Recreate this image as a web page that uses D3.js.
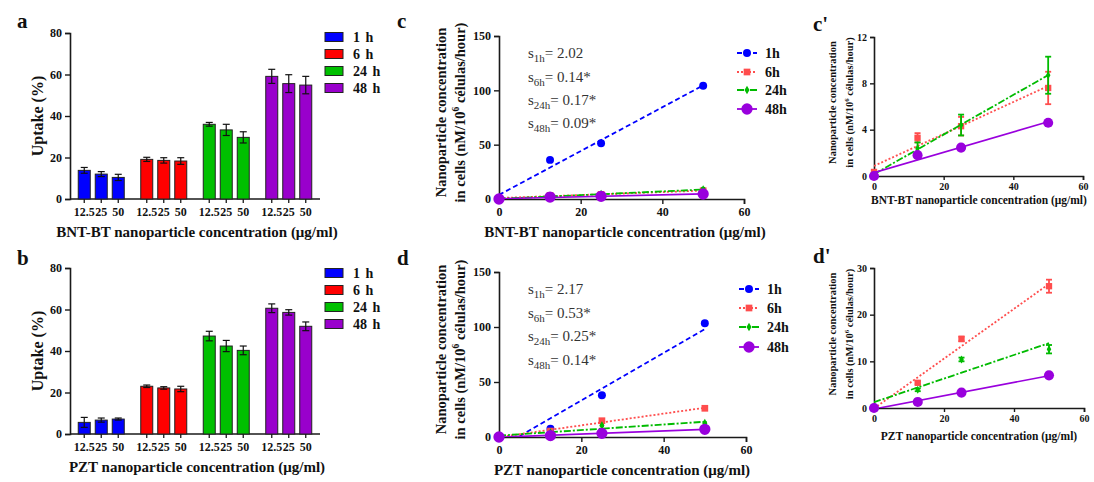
<!DOCTYPE html>
<html>
<head>
<meta charset="utf-8">
<script src="https://cdn.jsdelivr.net/npm/d3@7"></script>
<style>
  body { margin: 0; background: #fff; }
  text { font-family: "Liberation Serif", "Times New Roman", serif; }
</style>
</head>
<body>
<svg id="fig" width="1094" height="482"></svg>
<script>
// ---- data ----
var times = ["1 h", "6 h", "24 h", "48 h"];
var concLabels = ["12.5", "25", "50"];

// uptake (%) per time group, one value per concentration
var uptakeBNT    = [[13.8, 12.0, 10.4], [19.1, 18.6, 18.3], [36.0, 33.3, 29.7], [59.1, 55.6, 54.9]];
var uptakeBNTErr = [[1.4, 1.2, 1.5], [1.0, 1.3, 1.6], [0.9, 2.7, 2.7], [3.4, 4.3, 4.2]];
var uptakePZT    = [[5.6, 6.7, 7.2], [23.0, 22.2, 21.7], [47.2, 42.4, 40.3], [60.6, 58.6, 51.9]];
var uptakePZTErr = [[2.4, 1.0, 0.5], [0.6, 0.6, 1.3], [2.3, 2.7, 2.1], [2.1, 1.3, 2.1]];

// nanoparticle concentration in cells vs. dose
var conc = [0, 12.5, 25, 50];
var seriesNames = ["1h", "6h", "24h", "48h"];
var bnt1h  = [0, 36.0, 51.2, 104.3];
var bnt6h  = [0.35, 3.3, 4.3, 7.6];
var bnt24h = [0.1, 2.4, 4.4, 8.7];
var bnt48h = [0, 1.8, 2.45, 4.6];
var bnt1hErr  = [0, 1.0, 1.5, 1.0];
var bnt6hErr  = [0.1, 0.4, 0.8, 1.4];
var bnt24hErr = [0.1, 0.5, 0.9, 1.6];
var bnt48hErr = [0, 0.1, 0.1, 0.1];

var pzt1h  = [0, 7.5, 38.0, 103.5];
var pzt6h  = [0, 5.4, 14.8, 26.1];
var pzt24h = [0.2, 3.9, 10.4, 12.6];
var pzt48h = [0, 1.3, 3.3, 7.0];
var pzt1hErr  = [0, 0.5, 1.0, 1.0];
var pzt6hErr  = [0, 0.3, 0.5, 1.4];
var pzt24hErr = [0, 0.3, 0.4, 0.9];
var pzt48hErr = [0, 0.1, 0.1, 0.1];

var bntSlopes = ["2.02", "0.14*", "0.17*", "0.09*"];
var pztSlopes = ["2.17", "0.53*", "0.25*", "0.14*"];

var barColors = ["#0000ff", "#ff0000", "#00c000", "#9900cc"];
var lineColors = ["#0000ff", "#ff4d4d", "#00bb00", "#9900dd"];
var lineDash = ["5,3", "2,2", "7,2,2,2", null];
var lineSyms = [d3.symbolCircle, d3.symbolSquare, d3.symbolDiamond, d3.symbolCircle];

var svg = d3.select("#fig");
var axisCol = "#1a1a1a";

function styleAxis(g, fs) {
  g.select(".domain").attr("stroke", axisCol).attr("stroke-width", 1.6);
  g.selectAll(".tick line").attr("stroke", axisCol).attr("stroke-width", 1.4);
  g.selectAll(".tick text").attr("fill", "#111").style("font-size", fs + "px")
    .style("font-weight", "bold").style("font-family", "'Liberation Serif', serif");
}

function panelLabel(x, y, t) {
  svg.append("text").attr("x", x).attr("y", y).text(t)
    .style("font-size", "21px").style("font-weight", "bold").attr("fill", "#111");
}

// ---------- bar panels (a, b) ----------
function barPanel(y0, y1, vals, errs, xTitle, legendYs) {
  var g = svg.append("g");
  var y = d3.scaleLinear().domain([0, 80]).range([y0, y1]);
  var gx = d3.scaleBand().domain(times).range([70, 320]);
  var ix = d3.scalePoint().domain(concLabels).range([-17, 17]);
  var bw = 12;

  var ya = g.append("g").attr("transform", "translate(70,0)")
    .call(d3.axisLeft(y).tickValues([0, 20, 40, 60, 80]).tickSize(5).tickPadding(3));
  styleAxis(ya, 12);

  g.append("line").attr("x1", 70).attr("x2", 320).attr("y1", y0).attr("y2", y0)
    .attr("stroke", axisCol).attr("stroke-width", 1.6);

  times.forEach(function(t, i) {
    concLabels.forEach(function(c, j) {
      var cx = gx(t) + gx.bandwidth() / 2 + ix(c);
      var v = vals[i][j], e = errs[i][j];
      g.append("rect").attr("x", cx - bw / 2).attr("width", bw)
        .attr("y", y(v)).attr("height", y0 - y(v))
        .attr("fill", barColors[i]).attr("stroke", "#222").attr("stroke-width", 1);
      g.append("line").attr("x1", cx).attr("x2", cx).attr("y1", y(v - e)).attr("y2", y(v + e))
        .attr("stroke", "#111").attr("stroke-width", 1.2);
      g.append("line").attr("x1", cx - 3.5).attr("x2", cx + 3.5).attr("y1", y(v + e)).attr("y2", y(v + e))
        .attr("stroke", "#111").attr("stroke-width", 1.2);
      g.append("line").attr("x1", cx - 3.5).attr("x2", cx + 3.5).attr("y1", y(v - e)).attr("y2", y(v - e))
        .attr("stroke", "#111").attr("stroke-width", 1.2);
      g.append("line").attr("x1", cx).attr("x2", cx).attr("y1", y0).attr("y2", y0 + 4)
        .attr("stroke", axisCol).attr("stroke-width", 1.3);
      g.append("text").attr("x", cx).attr("y", y0 + 17).attr("text-anchor", "middle")
        .text(c).style("font-size", "12px").style("font-weight", "bold").attr("fill", "#111");
    });
  });

  g.append("text").attr("x", 197).attr("y", y0 + 38).attr("text-anchor", "middle")
    .text(xTitle).style("font-size", "15px").style("font-weight", "bold").attr("fill", "#111");
  g.append("text").attr("transform", "translate(43," + ((y0 + y1) / 2) + ") rotate(-90)")
    .attr("text-anchor", "middle").text("Uptake (%)")
    .style("font-size", "16px").style("font-weight", "bold").attr("fill", "#111");

  // legend
  times.forEach(function(t, i) {
    g.append("rect").attr("x", 325).attr("y", legendYs[i] - 4.5).attr("width", 18).attr("height", 9)
      .attr("fill", barColors[i]).attr("stroke", "#222").attr("stroke-width", 1);
    g.append("text").attr("x", 353).attr("y", legendYs[i] + 5).text(t)
      .style("font-size", "14px").style("font-weight", "bold").attr("fill", "#111")
      .style("word-spacing", "2px");
  });
}

barPanel(199, 33, uptakeBNT, uptakeBNTErr, "BNT-BT nanoparticle concentration (\u03bcg/ml)", [37, 54, 71, 88]);
barPanel(434, 268, uptakePZT, uptakePZTErr, "PZT nanoparticle concentration (\u03bcg/ml)", [273, 290, 307, 324]);

// ---------- line panels ----------
function fit(xs, ys) {
  var mx = d3.mean(xs), my = d3.mean(ys);
  var sxy = d3.sum(xs, function(v, i) { return (v - mx) * (ys[i] - my); });
  var sxx = d3.sum(xs, function(v) { return (v - mx) * (v - mx); });
  var b = sxy / sxx;
  return { b: b, a: my - b * mx };
}

var clipId = 0;
function linePanel(cfg) {
  var g = svg.append("g");
  var x = d3.scaleLinear().domain([0, 60]).range([cfg.x0, cfg.x1]);
  var y = d3.scaleLinear().domain([0, cfg.ymax]).range([cfg.y0, cfg.y1]);
  var id = "clip" + (clipId++);
  svg.append("clipPath").attr("id", id).append("rect")
    .attr("x", cfg.x0).attr("y", cfg.y1).attr("width", cfg.x1 - cfg.x0).attr("height", cfg.y0 - cfg.y1);

  var xa = g.append("g").attr("transform", "translate(0," + cfg.y0 + ")")
    .call(d3.axisBottom(x).tickValues([0, 20, 40, 60]).tickSize(cfg.tick).tickPadding(3));
  styleAxis(xa, cfg.fs);
  var ya = g.append("g").attr("transform", "translate(" + cfg.x0 + ",0)")
    .call(d3.axisLeft(y).tickValues(cfg.yticks).tickSize(cfg.tick).tickPadding(3));
  styleAxis(ya, cfg.fs);

  cfg.series.forEach(function(s) {
    var f = fit(conc, s.vals);
    var col = lineColors[s.k];
    g.append("line").attr("clip-path", "url(#" + id + ")")
      .attr("x1", x(0)).attr("y1", y(f.a)).attr("x2", x(50)).attr("y2", y(f.a + f.b * 50))
      .attr("stroke", col).attr("stroke-width", s.k === 3 ? 1.6 : 1.8)
      .attr("stroke-dasharray", lineDash[s.k]);
    conc.forEach(function(c, i) {
      var v = s.vals[i], e = s.errs[i];
      if (e > 0) {
        [v - e, v + e].forEach(function(ev) {
          g.append("line").attr("x1", x(c) - cfg.cap).attr("x2", x(c) + cfg.cap)
            .attr("y1", y(ev)).attr("y2", y(ev)).attr("stroke", col).attr("stroke-width", 1.8);
        });
        g.append("line").attr("x1", x(c)).attr("x2", x(c)).attr("y1", y(v - e)).attr("y2", y(v + e))
          .attr("stroke", col).attr("stroke-width", 1.8);
      }
      g.append("path").attr("d", d3.symbol().type(lineSyms[s.k]).size(cfg.sizes[s.k])())
        .attr("transform", "translate(" + x(c) + "," + y(v) + ")").attr("fill", col);
    });
  });

  // axis titles
  g.append("text").attr("x", cfg.xTitleX).attr("y", cfg.xTitleY).attr("text-anchor", "middle")
    .text(cfg.xTitle).style("font-size", cfg.tfs + "px").style("font-weight", "bold").attr("fill", "#111");
  var ymid = (cfg.y0 + cfg.y1) / 2 + cfg.yTitleShift;
  g.append("text").attr("transform", "translate(" + cfg.yt1 + "," + ymid + ") rotate(-90)")
    .attr("text-anchor", "middle").text("Nanoparticle concentration")
    .style("font-size", cfg.yfs + "px").style("font-weight", "bold").attr("fill", "#111");
  var t2 = g.append("text").attr("transform", "translate(" + cfg.yt2 + "," + ymid + ") rotate(-90)")
    .attr("text-anchor", "middle").style("font-size", cfg.yfs + "px").style("font-weight", "bold").attr("fill", "#111");
  t2.append("tspan").text("in cells (nM/10");
  t2.append("tspan").text("6").attr("dy", -cfg.yfs * 0.4).style("font-size", (cfg.yfs * 0.65) + "px");
  t2.append("tspan").text(" c\u00e9lulas/hour)").attr("dy", cfg.yfs * 0.4);

  // slope annotations and legend
  if (cfg.slopes) {
    cfg.slopes.forEach(function(sv, i) {
      var t = g.append("text").attr("x", cfg.slopeX).attr("y", cfg.slopeY[i])
        .style("font-size", "15px").attr("fill", "#333");
      t.append("tspan").text("s");
      t.append("tspan").text(seriesNames[i]).attr("dy", 4).style("font-size", "11px");
      t.append("tspan").text("= " + sv).attr("dy", -4);
    });
    seriesNames.forEach(function(n, i) {
      var ly = cfg.legendY[i];
      g.append("line").attr("x1", cfg.legendX).attr("x2", cfg.legendX + 20).attr("y1", ly).attr("y2", ly)
        .attr("stroke", lineColors[i]).attr("stroke-width", 1.8).attr("stroke-dasharray", lineDash[i]);
      g.append("path").attr("d", d3.symbol().type(lineSyms[i]).size([50, 45, 22, 100][i])())
        .attr("transform", "translate(" + (cfg.legendX + 10) + "," + ly + ")").attr("fill", lineColors[i]);
      g.append("text").attr("x", cfg.legendX + 28).attr("y", ly + 5).text(n)
        .style("font-size", "14px").style("font-weight", "bold").attr("fill", "#111");
    });
  }
}

var allBNT = [
  { k: 0, vals: bnt1h, errs: bnt1hErr }, { k: 1, vals: bnt6h, errs: bnt6hErr },
  { k: 2, vals: bnt24h, errs: bnt24hErr }, { k: 3, vals: bnt48h, errs: bnt48hErr }
];
var allPZT = [
  { k: 0, vals: pzt1h, errs: pzt1hErr }, { k: 1, vals: pzt6h, errs: pzt6hErr },
  { k: 2, vals: pzt24h, errs: pzt24hErr }, { k: 3, vals: pzt48h, errs: pzt48hErr }
];

// c
linePanel({ x0: 499, x1: 744, y0: 199, y1: 36, ymax: 150, yticks: [0, 50, 100, 150], tick: 5, fs: 12, cap: 2,
  sizes: [50, 45, 22, 100], series: allBNT,
  xTitle: "BNT-BT nanoparticle concentration (\u03bcg/ml)", xTitleX: 625, xTitleY: 237, tfs: 15,
  yt1: 446, yt2: 465, yfs: 14.5, yTitleShift: -5,
  slopes: bntSlopes, slopeX: 528, slopeY: [58, 82, 105, 128], legendX: 737, legendY: [53, 72, 90, 109] });
// d
linePanel({ x0: 499, x1: 746, y0: 437, y1: 272, ymax: 150, yticks: [0, 50, 100, 150], tick: 5, fs: 12, cap: 2,
  sizes: [50, 45, 22, 100], series: allPZT,
  xTitle: "PZT nanoparticle concentration (\u03bcg/ml)", xTitleX: 622, xTitleY: 475, tfs: 15,
  yt1: 446, yt2: 465, yfs: 14.5, yTitleShift: -5,
  slopes: pztSlopes, slopeX: 528, slopeY: [294, 318, 341, 365], legendX: 739, legendY: [289, 308, 327, 347] });
// c'
linePanel({ x0: 874, x1: 1083, y0: 176, y1: 37, ymax: 12, yticks: [0, 4, 8, 12], tick: 4, fs: 10, cap: 3,
  sizes: [50, 40, 18, 80], series: allBNT.slice(1),
  xTitle: "BNT-BT nanoparticle concentration (\u03bcg/ml)", xTitleX: 979, xTitleY: 204, tfs: 11.5,
  yt1: 836, yt2: 853, yfs: 10.5, yTitleShift: -4 });
// d'
linePanel({ x0: 874, x1: 1084, y0: 408, y1: 268, ymax: 30, yticks: [0, 10, 20, 30], tick: 4, fs: 10, cap: 3,
  sizes: [50, 40, 18, 80], series: allPZT.slice(1),
  xTitle: "PZT nanoparticle concentration (\u03bcg/ml)", xTitleX: 979, xTitleY: 440, tfs: 11.5,
  yt1: 836, yt2: 853, yfs: 10.5, yTitleShift: -4 });

panelLabel(17, 28, "a");
panelLabel(17, 265, "b");
panelLabel(397, 28, "c");
panelLabel(397, 265, "d");
panelLabel(813, 31, "c'");
panelLabel(813, 263, "d'");
</script>
</body>
</html>
